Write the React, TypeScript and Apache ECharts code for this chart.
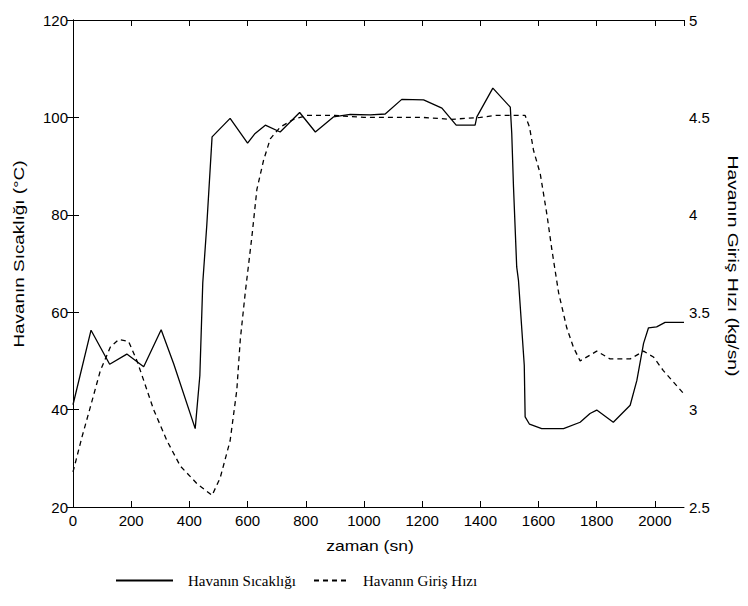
import React, { useEffect, useRef } from "react";
import * as echarts from "echarts";

// Air temperature (°C) over time (s)
const timeTemp = [
  0, 62, 126, 185, 243, 303, 346, 420, 436, 446, 460, 478, 540, 600, 626, 661,
  712, 779, 833, 895, 953, 1022, 1073, 1130, 1205, 1268, 1317, 1382, 1388, 1443,
  1503, 1508, 1514, 1525, 1531, 1551, 1554, 1569, 1611, 1686, 1743, 1777, 1800,
  1857, 1915, 1938, 1961, 1978, 2006, 2035, 2100,
];
const tempValues = [
  41, 56.3, 49.3, 51.4, 48.8, 56.4, 49.4, 36.1, 47, 66, 78, 96, 99.8, 94.7, 96.7,
  98.4, 97.0, 101, 97.0, 100.1, 100.6, 100.5, 100.7, 103.7, 103.6, 101.9, 98.4,
  98.4, 100.1, 106, 102.1, 96.7, 85.7, 69.3, 66.6, 49.1, 38.5, 37.0, 36.1, 36.1,
  37.4, 39.2, 39.9, 37.4, 40.9, 46, 53.6, 56.8, 57.0, 57.9, 57.9,
];

// Air inlet mass flow (kg/s) over time (s)
const timeFlow = [
  0, 31, 59, 94, 128, 157, 191, 220, 243, 277, 323, 369, 426, 478, 506, 540, 563,
  575, 592, 615, 632, 655, 678, 712, 758, 804, 900, 1000, 1100, 1200, 1300, 1400,
  1450, 1554, 1569, 1583, 1606, 1629, 1646, 1669, 1697, 1720, 1743, 1800, 1846,
  1915, 1961, 1995, 2029, 2100,
];
const flowValues = [
  2.68, 2.86, 3.01, 3.2, 3.32, 3.36, 3.35, 3.25, 3.15, 3.0, 2.84, 2.71, 2.62, 2.56,
  2.65, 2.84, 3.1, 3.36, 3.6, 3.89, 4.13, 4.28, 4.39, 4.45, 4.49, 4.51, 4.51, 4.5,
  4.5, 4.5, 4.49, 4.5, 4.51, 4.51, 4.45, 4.33, 4.21, 4.0, 3.82, 3.6, 3.42, 3.32,
  3.25, 3.3, 3.26, 3.26, 3.3, 3.27, 3.2, 3.08,
];

const SERIES_TEMP = "Havanın Sıcaklığı";
const SERIES_FLOW = "Havanın Giriş Hızı";
const X_NAME = "zaman (sn)";
const Y_LEFT_NAME = "Havanın Sıcaklığı (°C)";
const Y_RIGHT_NAME = "Havanın Giriş Hızı (kg/sn)";

const SANS = "'Liberation Sans', Arial, sans-serif";
const SERIF = "'Liberation Serif', 'Times New Roman', serif";

export default function App() {
  const ref = useRef<HTMLDivElement>(null);

  useEffect(() => {
    if (!ref.current) return;
    const chart = echarts.init(ref.current, undefined, { renderer: "svg" });

    const axisLine = { show: true, lineStyle: { color: "#000", width: 1 } };
    const axisTick = { show: true, inside: true, length: 6, lineStyle: { color: "#000", width: 1 } };
    const labelStyle = { color: "#000", fontFamily: SANS, fontSize: 15 };
    const plain = (v: number) => String(v);

    // legend entries show only the line sample, no marker
    const legendBase = {
      top: 573,
      padding: 0,
      itemHeight: 14,
      itemStyle: { opacity: 0 },
    };

    chart.setOption({
      animation: false,
      backgroundColor: "#fff",
      grid: { left: 73, right: 64, top: 20, bottom: 99 },
      xAxis: [
        {
          type: "value",
          min: 0,
          max: 2100,
          interval: 200,
          axisLine,
          axisTick,
          splitLine: { show: false },
          axisLabel: { ...labelStyle, margin: 6, showMaxLabel: false, formatter: plain },
        },
        {
          type: "value",
          position: "top",
          min: 0,
          max: 2100,
          interval: 200,
          axisLine,
          axisTick,
          splitLine: { show: false },
          axisLabel: { show: false },
        },
      ],
      yAxis: [
        {
          type: "value",
          position: "left",
          min: 20,
          max: 120,
          interval: 20,
          axisLine,
          axisTick,
          splitLine: { show: false },
          axisLabel: { ...labelStyle, margin: 5, formatter: plain },
        },
        {
          type: "value",
          position: "right",
          min: 2.5,
          max: 5,
          interval: 0.5,
          axisLine,
          axisTick,
          splitLine: { show: false },
          axisLabel: { ...labelStyle, margin: 5, formatter: plain },
        },
      ],
      legend: [
        {
          ...legendBase,
          data: [SERIES_TEMP],
          left: 115,
          itemWidth: 57,
          textStyle: { color: "#000", fontFamily: SERIF, fontSize: 15, padding: [0, 0, 0, 10] },
        },
        {
          ...legendBase,
          data: [SERIES_FLOW],
          left: 313,
          itemWidth: 35,
          textStyle: { color: "#000", fontFamily: SERIF, fontSize: 15, padding: [0, 0, 0, 9] },
        },
      ],
      series: [
        {
          name: SERIES_TEMP,
          type: "line",
          xAxisIndex: 0,
          yAxisIndex: 0,
          symbol: "none",
          data: timeTemp.map((t, i) => [t, tempValues[i]]),
          lineStyle: { color: "#000", width: 1.3 },
          itemStyle: { color: "#000" },
        },
        {
          name: SERIES_FLOW,
          type: "line",
          xAxisIndex: 0,
          yAxisIndex: 1,
          symbol: "none",
          data: timeFlow.map((t, i) => [t, flowValues[i]]),
          lineStyle: { color: "#000", width: 1.3, type: [5, 4] },
          itemStyle: { color: "#000" },
        },
      ],
      graphic: [
        {
          type: "text",
          x: 370,
          y: 546,
          scaleX: 1.25,
          style: {
            text: X_NAME,
            font: `14px ${SANS}`,
            fill: "#000",
            textAlign: "center",
            textVerticalAlign: "middle",
          },
        },
        {
          type: "text",
          x: 19,
          y: 254,
          rotation: Math.PI / 2,
          scaleX: 1.35,
          style: {
            text: Y_LEFT_NAME,
            font: `14px ${SANS}`,
            fill: "#000",
            textAlign: "center",
            textVerticalAlign: "middle",
          },
        },
        {
          type: "text",
          x: 733,
          y: 266,
          rotation: -Math.PI / 2,
          scaleX: 1.38,
          style: {
            text: Y_RIGHT_NAME,
            font: `14px ${SANS}`,
            fill: "#000",
            textAlign: "center",
            textVerticalAlign: "middle",
          },
        },
      ],
    });

    return () => chart.dispose();
  }, []);

  return (
    <div
      ref={ref}
      style={{ position: "fixed", left: 0, top: 0, width: 748, height: 606, background: "#fff" }}
    />
  );
}
